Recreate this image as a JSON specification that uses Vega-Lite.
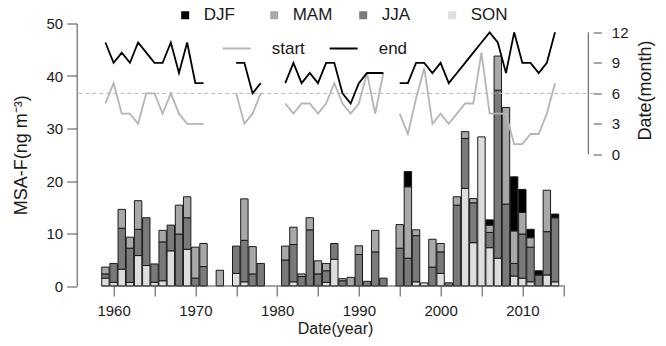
{
  "$schema": "https://vega.github.io/schema/vega-lite/v6.json",
  "width": 516.6,
  "height": 262.5,
  "autosize": {"type": "none"},
  "padding": {"left": 76.7, "top": 23.5, "right": 72.7, "bottom": 60},
  "background": "white",
  "config": {
    "font": "Liberation Sans",
    "view": {"stroke": null},
    "axis": {"grid": false, "domainColor": "#4d4d4d", "tickColor": "#4d4d4d", "labelColor": "#1a1a1a", "titleColor": "#1a1a1a", "labelFontSize": 15, "titleFontSize": 18, "titleFontWeight": "normal", "labelFont": "Liberation Sans", "titleFont": "Liberation Sans"},
    "legend": {"labelFont": "Liberation Sans", "labelColor": "#1a1a1a"}
  },
  "datasets": {
    "bars": [
      {"year": 1959, "season": "SON", "value": 1.5}, {"year": 1959, "season": "JJA", "value": 0.8}, {"year": 1959, "season": "MAM", "value": 1.3},
      {"year": 1960, "season": "SON", "value": 0.7}, {"year": 1960, "season": "JJA", "value": 3.6},
      {"year": 1961, "season": "SON", "value": 3.2}, {"year": 1961, "season": "JJA", "value": 7.8}, {"year": 1961, "season": "MAM", "value": 3.6},
      {"year": 1962, "season": "SON", "value": 0.7}, {"year": 1962, "season": "JJA", "value": 6.5}, {"year": 1962, "season": "MAM", "value": 2.1},
      {"year": 1963, "season": "SON", "value": 5.8}, {"year": 1963, "season": "JJA", "value": 5.0}, {"year": 1963, "season": "MAM", "value": 5.45},
      {"year": 1964, "season": "SON", "value": 3.9}, {"year": 1964, "season": "JJA", "value": 9.1},
      {"year": 1965, "season": "SON", "value": 0.7}, {"year": 1965, "season": "JJA", "value": 3.5},
      {"year": 1966, "season": "SON", "value": 1.0}, {"year": 1966, "season": "JJA", "value": 7.4}, {"year": 1966, "season": "MAM", "value": 2.2},
      {"year": 1967, "season": "SON", "value": 6.7}, {"year": 1967, "season": "JJA", "value": 4.9},
      {"year": 1968, "season": "JJA", "value": 9.9}, {"year": 1968, "season": "MAM", "value": 5.5},
      {"year": 1969, "season": "SON", "value": 7.0}, {"year": 1969, "season": "JJA", "value": 6.0}, {"year": 1969, "season": "MAM", "value": 4.0},
      {"year": 1970, "season": "JJA", "value": 1.5}, {"year": 1970, "season": "MAM", "value": 5.9},
      {"year": 1971, "season": "JJA", "value": 3.7}, {"year": 1971, "season": "MAM", "value": 4.4},
      {"year": 1973, "season": "MAM", "value": 3.0},
      {"year": 1975, "season": "SON", "value": 2.4}, {"year": 1975, "season": "JJA", "value": 5.2},
      {"year": 1976, "season": "SON", "value": 0.8}, {"year": 1976, "season": "JJA", "value": 7.9}, {"year": 1976, "season": "MAM", "value": 7.9},
      {"year": 1977, "season": "JJA", "value": 2.3}, {"year": 1977, "season": "MAM", "value": 5.2},
      {"year": 1978, "season": "JJA", "value": 4.3},
      {"year": 1981, "season": "JJA", "value": 4.95}, {"year": 1981, "season": "MAM", "value": 2.65},
      {"year": 1982, "season": "SON", "value": 0.8}, {"year": 1982, "season": "JJA", "value": 7.1}, {"year": 1982, "season": "MAM", "value": 3.3},
      {"year": 1983, "season": "JJA", "value": 1.8}, {"year": 1983, "season": "MAM", "value": 0.5},
      {"year": 1984, "season": "JJA", "value": 10.7}, {"year": 1984, "season": "MAM", "value": 2.3},
      {"year": 1985, "season": "JJA", "value": 2.3}, {"year": 1985, "season": "MAM", "value": 2.5},
      {"year": 1986, "season": "SON", "value": 0.7}, {"year": 1986, "season": "JJA", "value": 2.2}, {"year": 1986, "season": "MAM", "value": 1.4},
      {"year": 1987, "season": "SON", "value": 5.1}, {"year": 1987, "season": "JJA", "value": 3.0},
      {"year": 1988, "season": "JJA", "value": 1.0}, {"year": 1988, "season": "MAM", "value": 0.4},
      {"year": 1989, "season": "MAM", "value": 1.65},
      {"year": 1990, "season": "JJA", "value": 6.0}, {"year": 1990, "season": "MAM", "value": 1.65},
      {"year": 1991, "season": "JJA", "value": 0.9},
      {"year": 1992, "season": "JJA", "value": 6.5}, {"year": 1992, "season": "MAM", "value": 4.1},
      {"year": 1993, "season": "JJA", "value": 1.5},
      {"year": 1995, "season": "JJA", "value": 7.2}, {"year": 1995, "season": "MAM", "value": 4.5},
      {"year": 1996, "season": "JJA", "value": 5.3}, {"year": 1996, "season": "MAM", "value": 13.6}, {"year": 1996, "season": "DJF", "value": 2.9},
      {"year": 1997, "season": "SON", "value": 0.8}, {"year": 1997, "season": "JJA", "value": 8.8}, {"year": 1997, "season": "MAM", "value": 1.1},
      {"year": 1998, "season": "SON", "value": 0.6},
      {"year": 1999, "season": "JJA", "value": 3.6}, {"year": 1999, "season": "MAM", "value": 5.3},
      {"year": 2000, "season": "SON", "value": 2.4}, {"year": 2000, "season": "JJA", "value": 4.1}, {"year": 2000, "season": "MAM", "value": 1.6},
      {"year": 2001, "season": "JJA", "value": 0.6},
      {"year": 2002, "season": "JJA", "value": 15.4}, {"year": 2002, "season": "MAM", "value": 1.6},
      {"year": 2003, "season": "SON", "value": 18.6}, {"year": 2003, "season": "JJA", "value": 9.5}, {"year": 2003, "season": "MAM", "value": 1.3},
      {"year": 2004, "season": "SON", "value": 8.25}, {"year": 2004, "season": "JJA", "value": 7.6}, {"year": 2004, "season": "MAM", "value": 0.8},
      {"year": 2005, "season": "SON", "value": 28.4},
      {"year": 2006, "season": "SON", "value": 7.3}, {"year": 2006, "season": "JJA", "value": 2.9}, {"year": 2006, "season": "MAM", "value": 1.4}, {"year": 2006, "season": "DJF", "value": 1.0},
      {"year": 2007, "season": "SON", "value": 5.3}, {"year": 2007, "season": "JJA", "value": 32.0}, {"year": 2007, "season": "MAM", "value": 6.5},
      {"year": 2008, "season": "JJA", "value": 15.6}, {"year": 2008, "season": "MAM", "value": 18.4},
      {"year": 2009, "season": "SON", "value": 1.9}, {"year": 2009, "season": "JJA", "value": 2.4}, {"year": 2009, "season": "MAM", "value": 6.2}, {"year": 2009, "season": "DJF", "value": 10.3},
      {"year": 2010, "season": "SON", "value": 1.5}, {"year": 2010, "season": "JJA", "value": 8.4}, {"year": 2010, "season": "MAM", "value": 4.1}, {"year": 2010, "season": "DJF", "value": 4.4},
      {"year": 2011, "season": "SON", "value": 0.8}, {"year": 2011, "season": "JJA", "value": 6.6}, {"year": 2011, "season": "MAM", "value": 1.8}, {"year": 2011, "season": "DJF", "value": 1.6},
      {"year": 2012, "season": "JJA", "value": 2.1}, {"year": 2012, "season": "DJF", "value": 0.8},
      {"year": 2013, "season": "SON", "value": 2.1}, {"year": 2013, "season": "JJA", "value": 8.25}, {"year": 2013, "season": "MAM", "value": 7.9},
      {"year": 2014, "season": "SON", "value": 0.8}, {"year": 2014, "season": "JJA", "value": 12.2}, {"year": 2014, "season": "DJF", "value": 0.7}
    ],
    "lines": [
      {"year": 1959, "type": "start", "month": 5}, {"year": 1960, "type": "start", "month": 7}, {"year": 1961, "type": "start", "month": 4}, {"year": 1962, "type": "start", "month": 4}, {"year": 1963, "type": "start", "month": 3}, {"year": 1964, "type": "start", "month": 6}, {"year": 1965, "type": "start", "month": 6}, {"year": 1966, "type": "start", "month": 4}, {"year": 1967, "type": "start", "month": 6}, {"year": 1968, "type": "start", "month": 4}, {"year": 1969, "type": "start", "month": 3}, {"year": 1970, "type": "start", "month": 3}, {"year": 1971, "type": "start", "month": 3},
      {"year": 1972, "type": "start", "month": null},
      {"year": 1975, "type": "start", "month": 6}, {"year": 1976, "type": "start", "month": 3}, {"year": 1977, "type": "start", "month": 4}, {"year": 1978, "type": "start", "month": 6},
      {"year": 1979, "type": "start", "month": null},
      {"year": 1981, "type": "start", "month": 5}, {"year": 1982, "type": "start", "month": 4}, {"year": 1983, "type": "start", "month": 5}, {"year": 1984, "type": "start", "month": 5}, {"year": 1985, "type": "start", "month": 4}, {"year": 1986, "type": "start", "month": 5}, {"year": 1987, "type": "start", "month": 7}, {"year": 1988, "type": "start", "month": 5}, {"year": 1989, "type": "start", "month": 4}, {"year": 1990, "type": "start", "month": 5}, {"year": 1991, "type": "start", "month": 8}, {"year": 1992, "type": "start", "month": 4}, {"year": 1993, "type": "start", "month": 8},
      {"year": 1994, "type": "start", "month": null},
      {"year": 1995, "type": "start", "month": 4}, {"year": 1996, "type": "start", "month": 2}, {"year": 1997, "type": "start", "month": 5.5}, {"year": 1998, "type": "start", "month": 8.5}, {"year": 1999, "type": "start", "month": 3}, {"year": 2000, "type": "start", "month": 4}, {"year": 2001, "type": "start", "month": 3}, {"year": 2002, "type": "start", "month": 4}, {"year": 2003, "type": "start", "month": 5}, {"year": 2004, "type": "start", "month": 5}, {"year": 2005, "type": "start", "month": 10}, {"year": 2006, "type": "start", "month": 4}, {"year": 2007, "type": "start", "month": 4}, {"year": 2008, "type": "start", "month": 4}, {"year": 2009, "type": "start", "month": 1}, {"year": 2010, "type": "start", "month": 1}, {"year": 2011, "type": "start", "month": 2}, {"year": 2012, "type": "start", "month": 2}, {"year": 2013, "type": "start", "month": 4}, {"year": 2014, "type": "start", "month": 7},
      {"year": 1959, "type": "end", "month": 11}, {"year": 1960, "type": "end", "month": 9}, {"year": 1961, "type": "end", "month": 10}, {"year": 1962, "type": "end", "month": 9}, {"year": 1963, "type": "end", "month": 11}, {"year": 1964, "type": "end", "month": 10}, {"year": 1965, "type": "end", "month": 9}, {"year": 1966, "type": "end", "month": 9}, {"year": 1967, "type": "end", "month": 11}, {"year": 1968, "type": "end", "month": 8}, {"year": 1969, "type": "end", "month": 11}, {"year": 1970, "type": "end", "month": 7}, {"year": 1971, "type": "end", "month": 7},
      {"year": 1972, "type": "end", "month": null},
      {"year": 1975, "type": "end", "month": 9}, {"year": 1976, "type": "end", "month": 9}, {"year": 1977, "type": "end", "month": 6}, {"year": 1978, "type": "end", "month": 7},
      {"year": 1979, "type": "end", "month": null},
      {"year": 1981, "type": "end", "month": 7}, {"year": 1982, "type": "end", "month": 9}, {"year": 1983, "type": "end", "month": 7}, {"year": 1984, "type": "end", "month": 8}, {"year": 1985, "type": "end", "month": 7}, {"year": 1986, "type": "end", "month": 9}, {"year": 1987, "type": "end", "month": 9}, {"year": 1988, "type": "end", "month": 6}, {"year": 1989, "type": "end", "month": 5}, {"year": 1990, "type": "end", "month": 7}, {"year": 1991, "type": "end", "month": 8}, {"year": 1992, "type": "end", "month": 8}, {"year": 1993, "type": "end", "month": 8},
      {"year": 1994, "type": "end", "month": null},
      {"year": 1995, "type": "end", "month": 7}, {"year": 1996, "type": "end", "month": 7}, {"year": 1997, "type": "end", "month": 9}, {"year": 1998, "type": "end", "month": 9}, {"year": 1999, "type": "end", "month": 8}, {"year": 2000, "type": "end", "month": 9}, {"year": 2001, "type": "end", "month": 7}, {"year": 2002, "type": "end", "month": 8}, {"year": 2003, "type": "end", "month": 9}, {"year": 2004, "type": "end", "month": 10}, {"year": 2005, "type": "end", "month": 11}, {"year": 2006, "type": "end", "month": 12}, {"year": 2007, "type": "end", "month": 11}, {"year": 2008, "type": "end", "month": 8}, {"year": 2009, "type": "end", "month": 12}, {"year": 2010, "type": "end", "month": 9}, {"year": 2011, "type": "end", "month": 9}, {"year": 2012, "type": "end", "month": 8}, {"year": 2013, "type": "end", "month": 9}, {"year": 2014, "type": "end", "month": 12}
    ]
  },
  "layer": [
    {
      "layer": [
        {
          "data": {"name": "bars"},
          "transform": [{"calculate": "indexof(['SON','JJA','MAM','DJF'], datum.season)", "as": "ord"}],
          "mark": {"type": "bar", "width": 7.4, "stroke": "#1a1a1a", "strokeWidth": 1},
          "encoding": {
            "x": {"field": "year", "type": "quantitative", "scale": {"domain": [1956.1, 2018.07], "nice": false, "zero": false},
                  "axis": {"values": [1960, 1965, 1970, 1975, 1980, 1985, 1990, 1995, 2000, 2005, 2010, 2015], "labelExpr": "datum.value % 10 === 0 ? datum.value : ''", "domain": false, "tickSize": 10, "labelPadding": 7, "title": "Date(year)", "titleFontSize": 16, "titlePadding": 2}},
            "y": {"field": "value", "type": "quantitative", "stack": "zero", "scale": {"domain": [0, 50], "nice": false},
                  "axis": {"values": [0, 10, 20, 30, 40, 50], "tickSize": 10, "labelPadding": 4, "title": "MSA-F(ng m⁻³)", "titleX": -54.7, "titleBaseline": "middle"}},
            "fill": {"field": "season", "type": "nominal",
                     "scale": {"domain": ["DJF", "MAM", "JJA", "SON"], "range": ["#000000", "#a8a8a8", "#7a7a7a", "#dedede"]},
                     "legend": {"orient": "none", "direction": "horizontal", "legendX": 100, "legendY": -17, "title": null, "symbolType": "square", "symbolSize": 64, "symbolStrokeWidth": 0, "labelFontSize": 17, "labelOffset": 10, "columnPadding": 22, "gridAlign": "all"}},
            "order": {"field": "ord", "type": "quantitative"}
          }
        },
        {
          "data": {"values": [{}]},
          "mark": {"type": "rule", "color": "#4d4d4d", "strokeWidth": 1},
          "encoding": {
            "x": {"datum": 1958.5, "type": "quantitative"},
            "x2": {"datum": 2015.2},
            "y": {"datum": 0, "type": "quantitative"}
          }
        }
      ]
    },
    {
      "layer": [
        {
          "data": {"values": [{}]},
          "mark": {"type": "rule", "color": "#b5b5b5", "strokeWidth": 1, "strokeDash": [4, 3]},
          "encoding": {"y": {"datum": 6, "type": "quantitative"}}
        },
        {
          "data": {"name": "lines"},
          "mark": {"type": "line", "strokeWidth": 1.8, "invalid": "break-paths-show-domains"},
          "encoding": {
            "x": {"field": "year", "type": "quantitative"},
            "y": {"field": "month", "type": "quantitative", "scale": {"domain": [-12.95, 12.87], "nice": false, "zero": false},
                  "axis": {"orient": "right", "values": [0, 3, 6, 9, 12], "domain": false, "tickSize": 8, "labelPadding": 10, "labelAlign": "left", "title": "Date(month)", "titleAngle": 270, "titleX": 51.7, "titleY": 66.5, "titleBaseline": "middle", "titleAlign": "center"}},
            "stroke": {"field": "type", "type": "nominal",
                       "scale": {"domain": ["start", "end"], "range": ["#b5b5b5", "#000000"]},
                       "legend": {"orient": "none", "direction": "horizontal", "legendX": 145, "legendY": 10, "title": null, "symbolType": "stroke", "symbolSize": 784, "symbolStrokeWidth": 2, "labelFontSize": 17, "labelOffset": 20, "columnPadding": 20, "gridAlign": "all"}}
          }
        },
        {
          "data": {"values": [{}]},
          "mark": {"type": "rule", "color": "#4d4d4d", "strokeWidth": 1},
          "encoding": {
            "x": {"datum": 2018.07, "type": "quantitative"},
            "y": {"datum": 0, "type": "quantitative"},
            "y2": {"datum": 12}
          }
        }
      ]
    }
  ],
  "resolve": {"scale": {"y": "independent"}}
}
